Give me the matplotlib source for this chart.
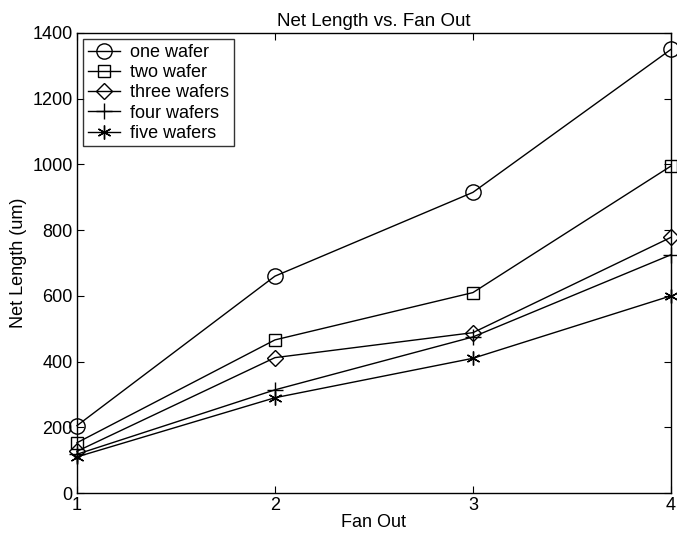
import matplotlib
matplotlib.use("Agg")
import matplotlib.pyplot as plt

plt.rcParams['font.family'] = ['Liberation Sans', 'DejaVu Sans']

# Data
fan_out = [1, 2, 3, 4]
one_wafer = [205, 660, 915, 1350]
two_wafer = [153, 466, 610, 995]
three_wafers = [127, 412, 488, 778]
four_wafers = [118, 314, 475, 725]
five_wafers = [110, 290, 410, 600]

series = [
    ('one wafer', one_wafer, 'o', 11),
    ('two wafer', two_wafer, 's', 8),
    ('three wafers', three_wafers, 'D', 8),
    ('four wafers', four_wafers, '+', 12),
    ('five wafers', five_wafers, (6, 2, 0), 10),
]

fig = plt.figure(figsize=(6.77, 5.39), dpi=100)
ax = fig.add_axes([0.1137, 0.0853, 0.8773, 0.8535])

for label, vals, mk, ms in series:
    ax.plot(fan_out, vals, color='black', lw=1.0, marker=mk, ms=ms,
            mfc='none', mec='black', mew=1.0, label=label, clip_on=False)

ax.set_xlim(1, 4)
ax.set_ylim(0, 1400)
ax.set_xticks([1, 2, 3, 4])
ax.set_yticks(range(0, 1401, 200))
ax.tick_params(direction='in', top=True, right=True, length=5,
               labelsize=13, width=0.8, pad=3)
for s in ax.spines.values():
    s.set_linewidth(1.0)

ax.set_title('Net Length vs. Fan Out', fontsize=13.5, pad=5)
ax.set_xlabel('Fan Out', fontsize=13, labelpad=0)
ax.set_ylabel('Net Length (um)', fontsize=13, labelpad=4)

leg = ax.legend(loc='upper left', fontsize=13, frameon=True, fancybox=False,
                edgecolor='black', borderaxespad=0.35, handlelength=1.8,
                labelspacing=0.18, borderpad=0.25, handletextpad=0.55)
leg.get_frame().set_linewidth(1.0)

fig.savefig('out.png', dpi=100)
